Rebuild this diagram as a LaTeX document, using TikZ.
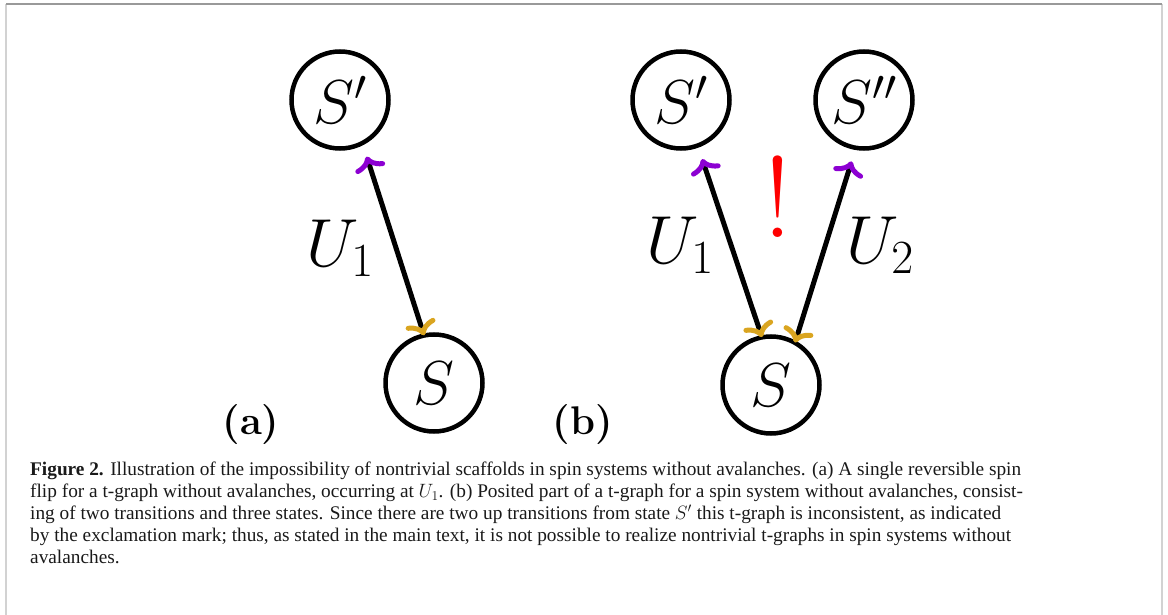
\documentclass[tikz,border=0pt]{standalone}
\usepackage{fix-cm}
\usepackage{fontspec}
\newfontfamily\capfont{Liberation Serif}
\usetikzlibrary{arrows.meta,positioning}
\definecolor{tipviolet}{RGB}{140,0,210}
\definecolor{tipgold}{RGB}{218,165,32}

\begin{document}
\begin{tikzpicture}[x=1pt, y=-1pt,
        state/.style={circle, draw, line width=4.5pt, minimum size=97pt, inner sep=0pt, font=\fontsize{62}{70}\selectfont},
        trans/.style={line width=5pt, arrows={Computer Modern Rightarrow[color=tipgold, width=31pt, length=14pt, line width=5pt]-Computer Modern Rightarrow[color=tipviolet, width=31pt, length=14pt, line width=5pt]}},
        lbl/.style={font=\fontsize{68}{76}\selectfont},
        panel/.style={font=\fontsize{40}{48}\selectfont\bfseries}
    ]
        \useasboundingbox (0,0) rectangle (1168,615);
        % frame
        \draw[gray!35, line width=2pt] (6,615) -- (6,4);
        \draw[gray!35, line width=2pt] (1162,615) -- (1162,4);
        \draw[gray!80, line width=1.5pt] (6,4) -- (1162,4);
        % (a)
        \node[state] (Spa) at (340,100) {$S'$};
        \node[state] (Sa) at (434,383) {$S$};
        \node[panel] (pa) at (251,425) {(a)};
        \node[lbl] (Ua) at (340,248) {$U_1$};
        \draw[trans, shorten >=12pt, shorten <=-2pt] (Sa.102) -- (Spa.-63);
        % (b)
        \node[state] (Spb) at (681,100) {$S'$};
        \node[state] (Sppb) at (864,100) {$S''$};
        \node[state] (Sb) at (771,385) {$S$};
        \node[panel] (pb) at (583,425) {(b)};
        \node[lbl] (Ub1) at (680,245) {$U_1$};
        \node[lbl] (Ub2) at (880,245) {$U_2$};
        \node[text=red, font=\fontsize{115}{120}\selectfont] (bang) at (778,197) {!};
        \draw[trans, shorten >=12pt, shorten <=-2pt] (Sb.101) -- (Spb.-70);
        \draw[trans, shorten >=12pt, shorten <=-2pt] (Sb.61) -- (Sppb.-100);
        % caption
        \node[anchor=north west, align=left, inner sep=0pt, text=black!90,
              font=\capfont\fontsize{19.3}{21.9}\selectfont] (cap) at (30,462)
            {\textbf{Figure 2.} Illustration of the impossibility of nontrivial scaffolds in spin systems without avalanches. (a) A single reversible spin\\
             flip for a t-graph without avalanches, occurring at $U_1$. (b) Posited part of a t-graph for a spin system without avalanches, consist-\\
             ing of two transitions and three states. Since there are two up transitions from state \smash{$S'$} this t-graph is inconsistent, as indicated\\
             by the exclamation mark; thus, as stated in the main text, it is not possible to realize nontrivial t-graphs in spin systems without\\
             avalanches.};
\end{tikzpicture}
\end{document}
